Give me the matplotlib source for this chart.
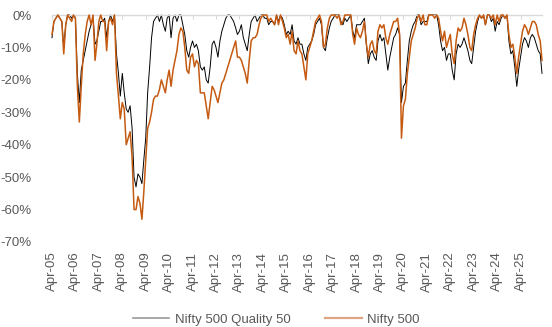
import numpy as np
import pandas as pd
import matplotlib as mpl
mpl.use('Agg')
import matplotlib.pyplot as plt
import matplotlib.dates as mdates
from matplotlib.lines import Line2D

plt.rcParams['font.family'] = ['Liberation Sans', 'DejaVu Sans']

# monthly drawdown (%), Apr-2005 .. Mar-2026, one row per Apr-Mar year
months = pd.date_range('2005-04-01', periods=252, freq='MS')

quality50 = [
    -7, -2, -1, 0, -1, -2, -10, -3, 0, 0, -1, 0,
    -1, -18, -27, -17, -14, -11, -8, -5, -3, -1, -9, -8,
    -5, -2, -2, -1, -7, -2, 0, -2, 0, -12, -18, -25,
    -18, -24, -29, -30, -28, -35, -50, -53, -49, -50, -52, -45,
    -38, -24, -16, -7, -2, -1, 0, -2, 0, -3, -5, -1,
    0, -7, -1, 0, -2, 0, 0, -3, -6, -11, -13, -10,
    -8, -10, -9, -11, -16, -17, -16, -20, -21, -16, -9, -8,
    -10, -13, -8, -5, -3, -1, 0, 0, -1, -2, -4, -6,
    -5, -3, -7, -9, -11, -6, -2, -1, 0, -2, -1, 0,
    0, -1, -1, -3, -2, -2, -3, 0, -2, 0, -1, -3,
    -6, -5, -6, -3, -8, -9, -7, -9, -9, -12, -14, -10,
    -9, -8, -6, -3, -2, -1, -3, -10, -11, -7, -4, -2,
    -1, 0, 0, 0, -2, -3, -1, -2, -1, 0, -5, -7,
    -3, -3, -3, -2, -1, -9, -15, -12, -11, -13, -14, -8,
    -6, -8, -7, -12, -17, -13, -10, -7, -6, -4, -6, -27,
    -22, -21, -14, -8, -5, -3, -2, 0, 0, -3, -2, -2,
    -2, 0, 0, 0, 0, 0, -3, -8, -11, -10, -14, -12,
    -12, -17, -20, -12, -9, -10, -9, -7, -9, -11, -14, -15,
    -10, -5, -2, 0, -1, 0, -3, 0, 0, -2, -1, -5,
    -2, -3, -1, 0, -1, 0, -8, -12, -11, -16, -22, -17,
    -13, -9, -7, -8, -10, -7, -6, -7, -9, -11, -12, -18,
]

nifty500 = [
    -6, -2, -1, 0, -1, -2, -12, -3, 0, -1, -2, 0,
    -1, -22, -33, -22, -12, -6, -2, 0, -3, 0, -14, -9,
    -2, 0, -2, -2, -11, -2, -1, -3, 0, -18, -25, -32,
    -27, -29, -40, -38, -36, -44, -60, -60, -56, -58, -63, -55,
    -45, -35, -33, -30, -26, -25, -25, -23, -20, -22, -24, -20,
    -17, -22, -17, -14, -11, -6, -4, -5, -10, -17, -18, -13,
    -12, -16, -14, -15, -24, -24, -24, -28, -32, -27, -22, -23,
    -25, -27, -24, -21, -20, -18, -16, -14, -12, -10, -8, -13,
    -13, -14, -16, -18, -21, -14, -8, -7, -7, -6, -3, -1,
    0, 0, 0, -2, -1, -2, -3, 0, -3, 0, -2, -4,
    -7, -6, -9, -5, -11, -12, -8, -11, -12, -16, -20, -12,
    -10, -8, -5, -2, -1, 0, -2, -10, -9, -4, -1, 0,
    0, 0, -1, 0, -3, -2, 0, 0, 0, 0, -6, -9,
    -4, -6, -7, -5, -2, -9, -13, -9, -8, -11, -12, -5,
    -3, -4, -3, -7, -9, -6, -4, -2, -2, -1, -6, -38,
    -28, -26, -18, -13, -8, -6, -4, -1, 0, -2, 0, -3,
    -3, 0, 0, 0, -1, 0, -1, -5, -8, -5, -10, -8,
    -6, -12, -15, -8, -4, -5, -4, -1, -3, -6, -10, -11,
    -6, -3, -1, 0, -1, 0, -3, 0, 0, -1, 0, -3,
    0, -2, 0, 0, -1, 0, -6, -10, -9, -13, -18, -13,
    -9, -5, -3, -4, -6, -4, -2, -2, -3, -6, -8, -14,
]

series_names = ['Nifty 500 Quality 50', 'Nifty 500']
y_ticks = [0, -10, -20, -30, -40, -50, -60, -70]

grey_text = '#595959'
orange = '#C55A11'

fig = plt.figure(figsize=(5.52, 3.27), dpi=100)
ax = fig.add_axes([52 / 552, 1 - 242 / 327, 490 / 552, 227 / 327])

ax.plot(months, quality50, color='black', lw=0.7, clip_on=False, zorder=2)
ax.plot(months, nifty500, color=orange, lw=1.1, clip_on=False, zorder=3)

ax.set_ylim(-70, 0)
ax.set_xlim(months[0], months[-1])
ax.set_yticks(y_ticks)
ax.set_yticklabels([f"{int(round(v))}%" for v in y_ticks])

tick_years = pd.date_range('2005-04-01', '2025-04-01', freq='12MS')
ax.set_xticks(tick_years)
ax.xaxis.set_major_formatter(mdates.DateFormatter('%b-%y'))

for s in ['left', 'right', 'bottom']:
    ax.spines[s].set_visible(False)
ax.spines['top'].set_color('#D9D9D9')
ax.spines['top'].set_linewidth(1.0)

ax.tick_params(axis='x', top=True, bottom=False, labeltop=False, labelbottom=True,
               direction='in', length=3, color='#D9D9D9', labelrotation=90,
               labelsize=9.5, labelcolor=grey_text, pad=7)
ax.tick_params(axis='y', left=False, labelsize=9.5, labelcolor=grey_text, pad=11)

handles = [Line2D([], [], color='#9A9A9A', lw=1.2),
           Line2D([], [], color='#DDA584', lw=1.6)]
fig.legend(handles, series_names, loc='lower center', bbox_to_anchor=(0.5, -0.033),
           ncol=2, frameon=False, fontsize=9.5, labelcolor=grey_text,
           handlelength=2.8, handletextpad=0.4, columnspacing=2.6)

plt.savefig('out.png', dpi=100)
